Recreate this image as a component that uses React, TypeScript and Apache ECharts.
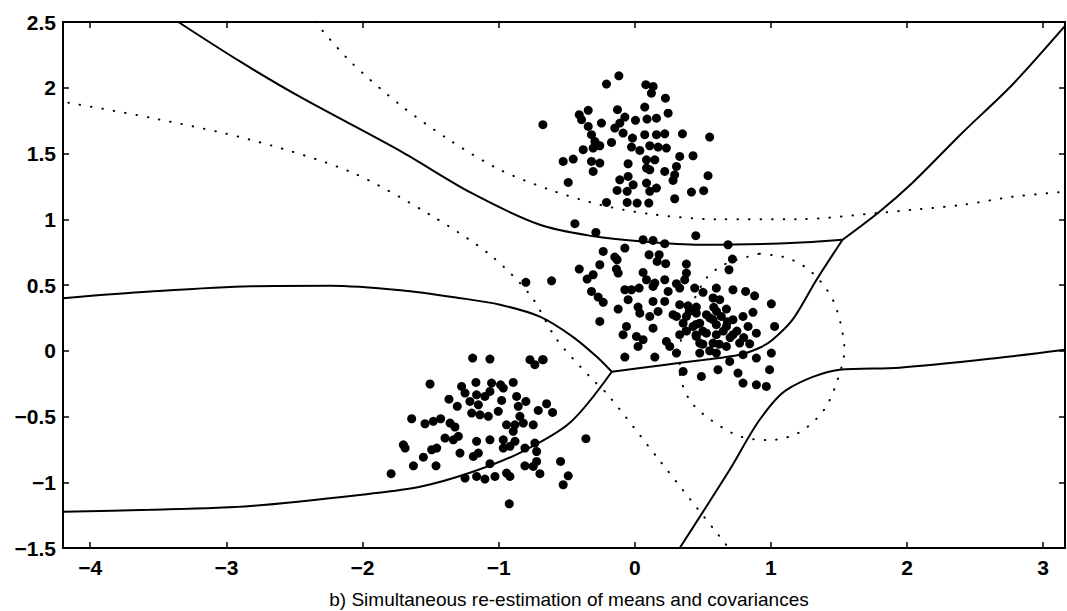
import React, { useEffect, useRef } from "react";
import * as echarts from "echarts";

// Axis ticks
const xTicks = [-4, -3, -2, -1, 0, 1, 2, 3];
const yTicks = [-1.5, -1, -0.5, 0, 0.5, 1, 1.5, 2, 2.5];

const chartTitle = "b) Simultaneous re-estimation of means and covariances";

// Samples: upper cluster
const topCluster: number[][] = [
  [-0.117, 2.091], [-0.208, 2.028], [0.081, 2.023], [0.135, 2.01], [0.122, 1.959], [0.225, 1.921],
  [-0.342, 1.828], [-0.408, 1.795], [-0.127, 1.833], [-0.073, 1.777], [0.005, 1.752], [0.073, 1.853],
  [0.09, 1.762], [0.159, 1.769], [0.245, 1.807], [-0.675, 1.719], [-0.391, 1.757], [-0.245, 1.731],
  [-0.342, 1.706], [-0.147, 1.693], [-0.11, 1.731], [-0.318, 1.643], [-0.086, 1.655], [-0.017, 1.617],
  [0.073, 1.643], [0.159, 1.643], [0.22, 1.65], [0.35, 1.65], [0.55, 1.625], [-0.293, 1.592],
  [-0.171, 1.584], [-0.257, 1.559], [-0.024, 1.549], [0.037, 1.523], [0.11, 1.559], [0.171, 1.549],
  [0.232, 1.541], [-0.379, 1.529], [-0.306, 1.541], [0.33, 1.478], [0.428, 1.483], [-0.526, 1.44],
  [-0.452, 1.458], [-0.318, 1.44], [-0.257, 1.427], [-0.049, 1.422], [0.086, 1.452], [0.147, 1.452],
  [0.086, 1.389], [0.11, 1.376], [0.306, 1.402], [0.293, 1.338], [-0.306, 1.364], [0.22, 1.364],
  [-0.489, 1.28], [-0.11, 1.3], [-0.049, 1.326], [-0.012, 1.262], [0.086, 1.275], [0.281, 1.295],
  [0.538, 1.331], [-0.13, 1.219], [-0.056, 1.212], [0.11, 1.212], [0.159, 1.237], [0.416, 1.207],
  [0.506, 1.217], [-0.208, 1.128], [-0.056, 1.128], [0.017, 1.123], [0.103, 1.123], [0.293, 1.156],
];

// Samples: middle cluster
const midCluster: number[][] = [
  [-0.44, 0.966], [-0.286, 0.9], [0.448, 0.875], [0.061, 0.844], [0.134, 0.839], [0.22, 0.814],
  [0.685, 0.806], [-0.232, 0.755], [-0.073, 0.781], [-0.147, 0.712], [-0.13, 0.692], [0.105, 0.73],
  [0.179, 0.73], [0.164, 0.679], [0.227, 0.662], [-0.257, 0.654], [-0.408, 0.621], [0.379, 0.659],
  [0.717, 0.697], [0.692, 0.616], [-0.611, 0.532], [-0.35, 0.545], [-0.306, 0.578], [-0.122, 0.591],
  [-0.135, 0.621], [0.061, 0.596], [0.086, 0.54], [0.147, 0.515], [0.22, 0.54], [0.379, 0.591],
  [0.367, 0.54], [0.306, 0.51], [-0.318, 0.451], [-0.269, 0.408], [-0.232, 0.368], [-0.073, 0.464],
  [-0.024, 0.464], [0.032, 0.477], [0.134, 0.489], [0.245, 0.451], [0.33, 0.477], [0.44, 0.477],
  [0.501, 0.444], [0.599, 0.477], [0.721, 0.464], [0.814, 0.451], [0.88, 0.418], [1.003, 0.357],
  [-0.049, 0.388], [0.024, 0.332], [0.134, 0.375], [0.22, 0.375], [0.33, 0.35], [0.391, 0.342],
  [0.452, 0.332], [0.575, 0.401], [0.624, 0.388], [-0.122, 0.317], [0.673, 0.317], [0.868, 0.292],
  [0.037, 0.286], [0.11, 0.261], [0.171, 0.299], [0.281, 0.274], [0.306, 0.261], [0.379, 0.261],
  [0.452, 0.286], [0.526, 0.274], [0.575, 0.236], [0.636, 0.261], [0.721, 0.236], [0.795, 0.261],
  [-0.257, 0.223], [-0.061, 0.185], [0.134, 0.172], [0.355, 0.21], [0.428, 0.185], [0.477, 0.21],
  [0.599, 0.198], [0.673, 0.185], [0.832, 0.185], [1.027, 0.185], [-0.086, 0.122], [0.012, 0.109],
  [0.061, 0.084], [0.232, 0.071], [0.33, 0.122], [0.452, 0.109], [0.526, 0.134], [0.599, 0.122],
  [0.721, 0.122], [0.893, 0.134], [0.024, 0.033], [0.257, 0.033], [0.477, 0.058], [0.575, 0.058],
  [0.673, 0.033], [0.77, 0.058], [0.844, 0.053], [-0.073, -0.048], [0.147, -0.048], [0.306, -0.018],
  [0.477, -0.018], [0.599, -0.018], [0.697, -0.081], [0.795, -0.03], [0.893, -0.056], [1.003, -0.018],
  [0.355, -0.157], [0.489, -0.195], [0.611, -0.144], [0.758, -0.17], [0.795, -0.246], [0.893, -0.259],
  [0.966, -0.271], [0.99, -0.144], [-0.673, -0.068], [-0.8, 0.52],
  [0.45, 0.2], [0.5, 0.15], [0.55, 0.25], [0.6, 0.3], [0.65, 0.15], [0.7, 0.1], [0.75, 0.15],
  [0.4, 0.3], [0.5, 0.05], [0.55, 0.0], [0.62, 0.05], [0.68, 0.22], [0.45, 0.12], [0.8, 0.1],
  [0.58, 0.33], [0.38, 0.15],
];

// Samples: lower-left cluster
const lowCluster: number[][] = [
  [-1.191, -0.056], [-1.064, -0.063], [-0.77, -0.068], [-0.677, -0.068], [-0.734, -0.106],
  [-1.504, -0.253], [-1.272, -0.271], [-1.167, -0.241], [-1.052, -0.246], [-0.986, -0.259],
  [-0.893, -0.241], [-1.247, -0.322], [-1.162, -0.335], [-1.101, -0.347], [-1.064, -0.309],
  [-0.966, -0.284], [-0.868, -0.347], [-0.8, -0.385], [-0.648, -0.403], [-0.604, -0.469],
  [-1.365, -0.368], [-1.304, -0.423], [-1.211, -0.385], [-1.149, -0.411], [-1.198, -0.474],
  [-1.137, -0.487], [-1.076, -0.499], [-1.003, -0.461], [-0.978, -0.378], [-0.856, -0.423],
  [-0.844, -0.499], [-0.709, -0.454], [-1.639, -0.517], [-1.541, -0.555], [-1.48, -0.537],
  [-1.426, -0.517], [-1.357, -0.55], [-1.321, -0.58], [-1.296, -0.651], [-1.394, -0.664],
  [-1.333, -0.677], [-0.942, -0.563], [-0.88, -0.563], [-0.819, -0.55], [-0.746, -0.563],
  [-0.893, -0.613], [-1.162, -0.689], [-1.064, -0.677], [-0.966, -0.677], [-0.88, -0.689],
  [-1.7, -0.715], [-1.687, -0.74], [-1.492, -0.753], [-1.455, -0.74], [-1.284, -0.778],
  [-1.186, -0.804], [-1.149, -0.778], [-0.966, -0.74], [-0.917, -0.727], [-0.807, -0.74],
  [-0.734, -0.702], [-0.721, -0.766], [-1.553, -0.809], [-1.626, -0.875], [-1.46, -0.875],
  [-1.064, -0.859], [-0.807, -0.875], [-0.721, -0.842], [-0.746, -0.88], [-0.545, -0.842],
  [-1.79, -0.935], [-1.247, -0.968], [-1.162, -0.956], [-1.101, -0.976], [-1.027, -0.956],
  [-0.942, -0.93], [-0.917, -0.956], [-0.697, -0.935], [-0.489, -0.951], [-0.526, -1.019],
  [-0.922, -1.164], [-0.359, -0.669],
];

// Decision boundaries (solid)
const boundaryUpper: number[][] = [
  [-3.353, 2.5], [-2.9, 2.2], [-2.458, 1.93], [-1.724, 1.52], [-1.2, 1.2], [-0.697, 0.958],
  [-0.3, 0.87], [0.037, 0.832], [0.477, 0.806], [1.064, 0.815], [1.526, 0.844],
];
const boundaryUpperRight: number[][] = [
  [1.526, 0.844], [1.797, 1.057], [2.04, 1.278], [2.406, 1.658], [2.773, 2.023], [3.16, 2.47],
];
const boundaryMiddle: number[][] = [
  [-0.169, -0.16], [0.2, -0.11], [0.5, -0.07], [0.77, -0.03], [0.917, 0.023], [1.012, 0.084],
  [1.159, 0.236], [1.335, 0.54], [1.526, 0.844],
];
const boundaryLeft: number[][] = [
  [-4.2, 0.4], [-3.56, 0.45], [-2.82, 0.49], [-2.24, 0.494], [-1.72, 0.46], [-1.28, 0.4],
  [-0.99, 0.35], [-0.697, 0.259], [-0.455, 0.106], [-0.279, -0.046], [-0.169, -0.16],
];
const boundaryLowerLeft: number[][] = [
  [-0.169, -0.16], [-0.477, -0.548], [-0.844, -0.776], [-1.211, -0.928], [-1.577, -1.034],
  [-1.944, -1.087], [-2.82, -1.18], [-3.56, -1.21], [-4.2, -1.224],
];
const boundaryLowerRight: number[][] = [
  [0.33, -1.5], [0.697, -0.905], [0.917, -0.525], [1.115, -0.297], [1.504, -0.144],
  [1.944, -0.129], [2.678, -0.053], [3.16, 0.008],
];

// Density contours (dotted)
const contourLeft: number[][] = [
  [-4.16, 1.886], [-3.558, 1.772], [-2.825, 1.605], [-2.09, 1.361], [-1.504, 1.034],
  [-1.064, 0.73], [-0.77, 0.426], [-0.572, 0.084], [-0.33, -0.198], [-0.198, -0.335],
  [0.183, -0.836], [0.624, -1.414], [0.69, -1.5],
];
const contourUpper: number[][] = [
  [-2.348, 2.5], [-2.09, 2.2], [-1.724, 1.87], [-1.357, 1.6], [-0.99, 1.376], [-0.624, 1.224],
  [-0.257, 1.11], [0.11, 1.04], [0.6, 1.0], [1.2, 1.0], [1.797, 1.049], [2.04, 1.072],
  [2.41, 1.11], [2.77, 1.17], [3.16, 1.21],
];
const contourEllipse: number[][] = [
  [0.917, 0.738], [1.115, 0.707], [1.269, 0.624], [1.401, 0.479], [1.482, 0.319], [1.54, 0.008],
  [1.49, -0.22], [1.39, -0.45], [1.21, -0.62], [0.99, -0.68], [0.77, -0.65], [0.55, -0.52],
  [0.4, -0.37], [0.33, -0.15], [0.35, 0.15], [0.506, 0.525], [0.653, 0.654], [0.917, 0.738],
];

const solidCurves = [boundaryUpper, boundaryUpperRight, boundaryMiddle, boundaryLeft, boundaryLowerLeft, boundaryLowerRight];
const dottedCurves = [contourLeft, contourUpper, contourEllipse];

const FONT = "'Liberation Sans', Arial, sans-serif";

const minusLabel = (v: number) => String(v).replace("-", "\u2212");

export default function App() {
  const ref = useRef<HTMLDivElement>(null);

  useEffect(() => {
    if (!ref.current) return;
    const chart = echarts.init(ref.current, undefined, { renderer: "svg" });

    const axisCommon = {
      axisLine: { show: true, onZero: false, lineStyle: { color: "#000", width: 2 } },
      splitLine: { show: false },
    };
    const tickStyle = { color: "#000", width: 1.5 };
    const labelStyle = {
      fontFamily: FONT,
      fontSize: 21,
      fontWeight: "bold",
      color: "#000",
      formatter: minusLabel,
    };

    const lineSeries = (data: number[][], dotted: boolean) => ({
      type: "line",
      data,
      showSymbol: false,
      smooth: 0.3,
      silent: true,
      z: 3,
      lineStyle: dotted
        ? { color: "#000", width: 2, type: [0.5, 11], cap: "round", opacity: 1 }
        : { color: "#000", width: 2, opacity: 1 },
    });

    chart.setOption({
      animation: false,
      backgroundColor: "#fff",
      title: {
        text: chartTitle,
        left: 564,
        top: 585,
        textAlign: "center",
        textStyle: { fontFamily: FONT, fontSize: 19, fontWeight: "normal", color: "#000" },
      },
      grid: { left: 63, right: 2, top: 22, bottom: 63 },
      xAxis: [
        {
          type: "value",
          min: -4.2,
          max: 3.16,
          position: "bottom",
          ...axisCommon,
          axisTick: { show: true, inside: true, length: 6, customValues: xTicks, lineStyle: tickStyle },
          axisLabel: { customValues: xTicks, margin: 9, ...labelStyle },
        },
        {
          type: "value",
          min: -4.2,
          max: 3.16,
          position: "top",
          ...axisCommon,
          axisTick: { show: true, inside: true, length: 6, customValues: xTicks, lineStyle: tickStyle },
          axisLabel: { show: false },
        },
      ],
      yAxis: [
        {
          type: "value",
          min: yTicks[0],
          max: yTicks[yTicks.length - 1],
          interval: 0.5,
          position: "left",
          ...axisCommon,
          axisTick: { show: true, inside: true, length: 6, lineStyle: tickStyle },
          axisLabel: { margin: 7, ...labelStyle },
        },
        {
          type: "value",
          min: yTicks[0],
          max: yTicks[yTicks.length - 1],
          interval: 0.5,
          position: "right",
          ...axisCommon,
          axisTick: { show: true, inside: true, length: 6, lineStyle: tickStyle },
          axisLabel: { show: false },
        },
      ],
      series: [
        ...solidCurves.map((c) => lineSeries(c, false)),
        ...dottedCurves.map((c) => lineSeries(c, true)),
        {
          type: "scatter",
          data: [...topCluster, ...midCluster, ...lowCluster],
          symbol: "circle",
          symbolSize: 9,
          itemStyle: { color: "#000", opacity: 1 },
          silent: true,
          z: 4,
        },
      ],
    });

    return () => chart.dispose();
  }, []);

  return <div ref={ref} style={{ width: 1067, height: 611, position: "absolute", left: 0, top: 0 }} />;
}
